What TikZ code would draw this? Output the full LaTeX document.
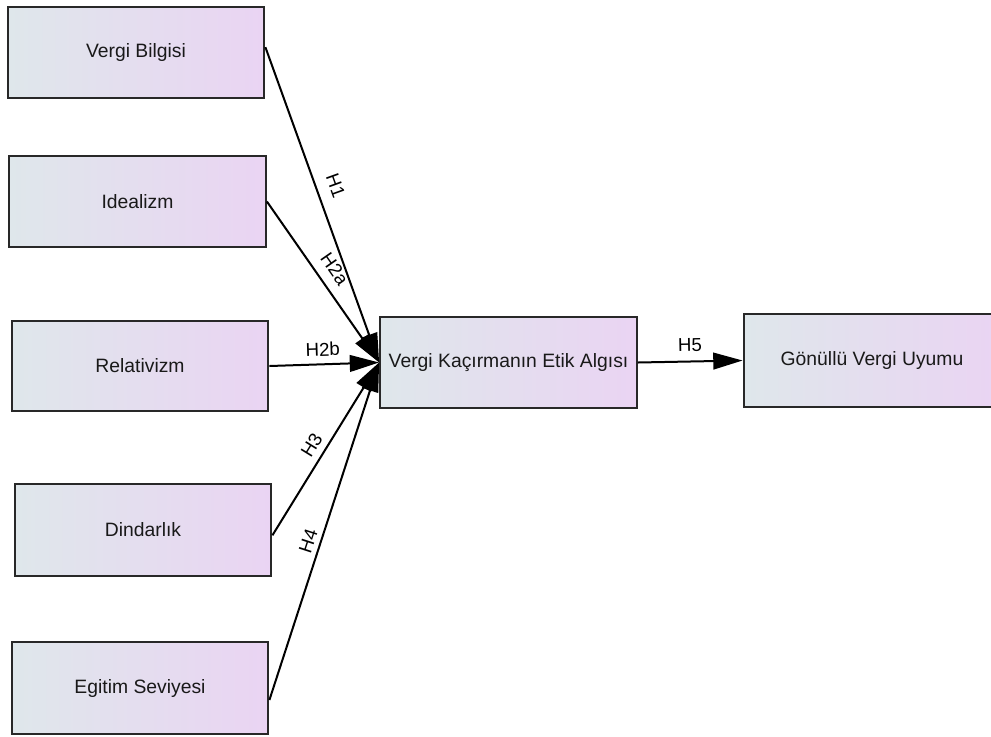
\documentclass[tikz,border=0pt]{standalone}
\usepackage{fontspec}
\setmainfont{Liberation Sans}
\usetikzlibrary{arrows.meta}
\definecolor{boxleft}{RGB}{223,231,235}
\definecolor{boxright}{RGB}{234,212,243}
\definecolor{boxline}{RGB}{40,40,40}
\begin{document}
\begin{tikzpicture}[x=0.75pt,y=-0.75pt,
  construct/.style={draw=boxline, line width=1.6pt, left color=boxleft, right color=boxright,
    minimum width=192.5pt, minimum height=68.5pt, inner sep=0pt,
    font=\fontsize{14.5pt}{17pt}\selectfont, text=black!90},
  path/.style={draw=black, line width=1.5pt, -{Triangle[length=22pt,width=12.5pt]}},
  hyp/.style={sloped, inner sep=0pt, font=\fontsize{14pt}{16pt}\selectfont}]
  \useasboundingbox (0,0) rectangle (991,736);
  \clip (0,0) rectangle (991,736);

  % exogenous constructs
  \node[construct] (bilgi)    at (136,52.5)  {Vergi Bilgisi};
  \node[construct] (ideal)    at (137.5,201.5) {Idealizm};
  \node[construct, minimum height=67pt] (relat) at (140,366) {Relativizm};
  \node[construct] (dindar)   at (143,530)   {Dindarlık};
  \node[construct] (egitim)   at (140,688)   {Egitim Seviyesi};

  % mediator and outcome
  \node[construct] (etik)     at (508.5,362.5) {Vergi Kaçırmanın Etik Algısı};
  \node[construct, minimum height=70pt] (uyum) at (872,360.5) {Gönüllü Vergi Uyumu};

  % structural paths
  \draw[path] ([yshift=4pt]bilgi.east) -- node[hyp, above=8.8pt, pos=0.46] {H1} (etik.west);
  \draw[path] (ideal.east) -- node[hyp, above=7pt, pos=0.48] {H2a} (etik.west);
  \draw[path] (relat.east) -- node[hyp, above=5.3pt, pos=0.49] {H2b} (etik.west);
  \draw[path] ([yshift=-4pt]dindar.east) -- node[hyp, above=4.8pt, pos=0.48] {H3} (etik.west);
  \draw[path] ([yshift=-9pt]egitim.east) -- node[hyp, above=3.6pt, pos=0.46] {H4} (etik.west);
  \draw[path] (etik.east) -- node[hyp, above=6.8pt, pos=0.5] {H5} (uyum.west);
\end{tikzpicture}
\end{document}
